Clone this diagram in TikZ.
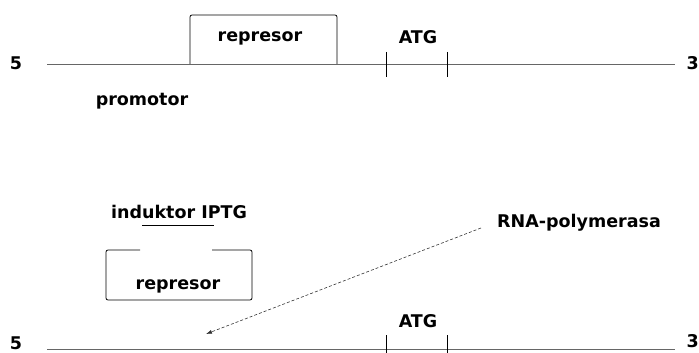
\documentclass[tikz,border=0pt]{standalone}
\usepackage{fontspec}
\setmainfont{DejaVu Sans}
\usetikzlibrary{arrows.meta}
\begin{document}
\begin{tikzpicture}[x=1pt,y=-1pt,
  lbl/.style={font=\bfseries\fontsize{17.5}{19}\selectfont, inner sep=0pt},
  dna/.style={draw=black!60, line width=0.7pt},
  boxline/.style={draw=black, line width=0.8pt, rounded corners=2pt},
  tick/.style={draw=black, line width=0.8pt}]
\useasboundingbox (0,0) rectangle (699,353);
% ---- top strand ----
\node[lbl] (five1) at (16,63) {5};
\node[lbl, anchor=east] (three1) at (699,63) {3};
\coordinate (l1s) at (47,64);
\coordinate (l1e) at (675,64);
\draw[dna] (l1s) -- (l1e);
\coordinate (r1a) at (190,64);
\coordinate (r1b) at (337,64);
\draw[boxline] (r1a) -- (190,15) -- (337,15) -- (r1b);
\node[lbl] (rep1) at (260,38) {represor};
\node[lbl] (atg1) at (418,37) {ATG};
\coordinate (t1a) at (386,52); \coordinate (t1b) at (386,77);
\coordinate (t2a) at (447,52); \coordinate (t2b) at (447,77);
\draw[tick] (t1a) -- (t1b);
\draw[tick] (t2a) -- (t2b);
\node[lbl] (prom) at (142,101) {promotor};
% ---- bottom strand ----
\node[lbl] (five2) at (16,343) {5};
\node[lbl, anchor=east] (three2) at (699,341) {3};
\coordinate (l2s) at (47,349);
\coordinate (l2e) at (675,349);
\draw[dna] (l2s) -- (l2e);
\node[lbl] (atg2) at (418,321) {ATG};
\coordinate (t3a) at (386,335); \coordinate (t3b) at (386,360);
\coordinate (t4a) at (447,335); \coordinate (t4b) at (447,360);
\draw[tick] (t3a) -- (t3b);
\draw[tick] (t4a) -- (t4b);
\node[lbl] (ind) at (179,212) {induktor IPTG};
\coordinate (ula) at (142,225); \coordinate (ulb) at (214,225);
\draw[black, line width=0.8pt] (ula) -- (ulb);
\draw[boxline] (140,250) -- (106,250) -- (106,300) -- (252,300) -- (252,250) -- (212,250);
\node[lbl] (rep2) at (178,286) {represor};
\node[lbl, anchor=west] (rna) at (497,223) {RNA-polymerasa};
\coordinate (arrs) at (481,228);
\coordinate (arre) at (206,334);
\draw[black!80, line width=0.6pt, dash pattern=on 3pt off 2pt, -{Latex[length=6pt,width=4pt]}] (arrs) -- (arre);
\end{tikzpicture}
\end{document}
